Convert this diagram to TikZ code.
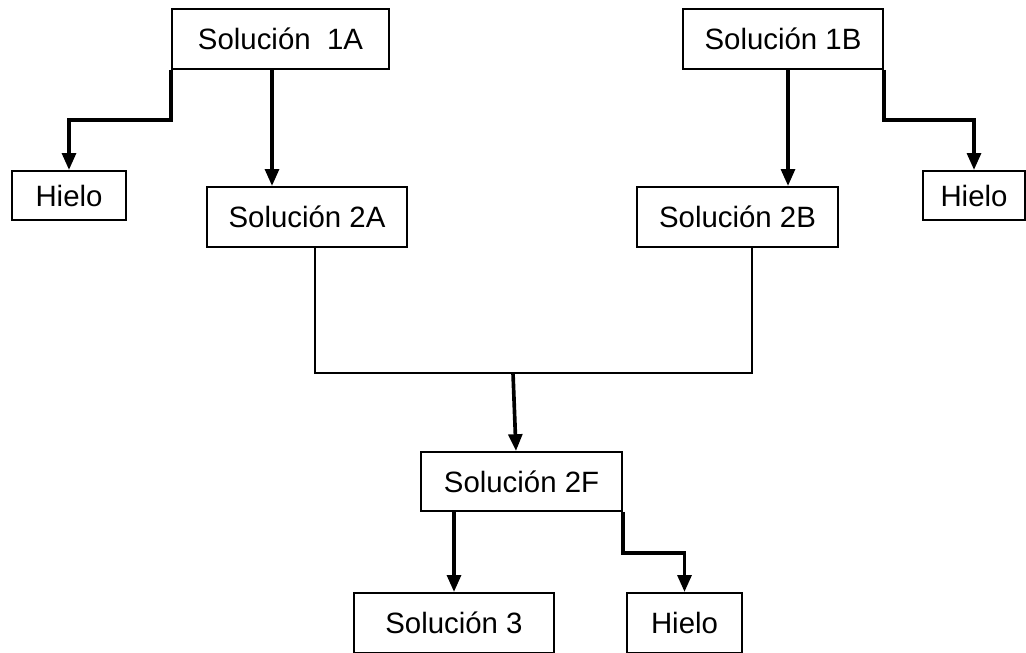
\documentclass[tikz,border=0pt]{standalone}
\usepackage{fontspec}
\setmainfont{Liberation Sans}
\usetikzlibrary{arrows.meta}

\begin{document}
\begin{tikzpicture}[x=0.025cm, y=-0.025cm,
    caja/.style={draw, line width=1.4pt, inner sep=0pt,
        font=\fontsize{20.9}{24}\selectfont},
    flecha/.style={line width=2.6pt, -{Triangle[width=0.34cm,length=0.42cm]}},
    linea/.style={line width=1.4pt}]
    \useasboundingbox (0,0) rectangle (1026,652);
    \clip (0,0) rectangle (1026,652);

    \node[caja, minimum width=217*0.025cm, minimum height=60*0.025cm] (S1A) at (280.5, 39) {Solución\ \ 1A};
    \node[caja, minimum width=200*0.025cm, minimum height=60*0.025cm] (S1B) at (783, 39) {Solución 1B};
    \node[caja, minimum width=114*0.025cm, minimum height=49*0.025cm] (HA) at (69, 195.5) {Hielo};
    \node[caja, minimum width=200*0.025cm, minimum height=60*0.025cm] (S2A) at (307, 217) {Solución 2A};
    \node[caja, minimum width=201*0.025cm, minimum height=60*0.025cm] (S2B) at (737.5, 217) {Solución 2B};
    \node[caja, minimum width=102*0.025cm, minimum height=49*0.025cm] (HB) at (974, 195.5) {Hielo};
    \node[caja, minimum width=201*0.025cm, minimum height=59*0.025cm] (S2F) at (521.5, 481.5) {Solución 2F};
    \node[caja, minimum width=200*0.025cm, minimum height=60*0.025cm] (S3) at (454, 623) {Solución 3};
    \node[caja, minimum width=115*0.025cm, minimum height=60*0.025cm] (HF) at (684.5, 623) {Hielo};

    \coordinate (codo1) at (0, 120);
    \coordinate (codo2) at (0, 553);
    \coordinate (xa) at (272, 0);
    \coordinate (xb) at (788, 0);
    \coordinate (xf) at (516, 0);
    \coordinate (JA) at (315, 373);
    \coordinate (JB) at (752, 373);
    \coordinate (J) at (513, 373);

    \draw[flecha] (S1A.south -| xa) to (S2A.north -| xa);
    \draw[flecha] (S1A.south west) -- (S1A.south west |- codo1) -| (HA.north);
    \draw[flecha] (S1B.south -| xb) to (S2B.north -| xb);
    \draw[flecha] (S1B.south east) -- (S1B.south east |- codo1) -| (HB.north);
    \draw[linea] (S2A.south -| JA) -- (JA) -- (JB) -- (S2B.south -| JB);
    \draw[flecha] (J) to (S2F.north -| xf);
    \draw[flecha] (S2F.south -| S3.north) to (S3.north);
    \draw[flecha] (S2F.south east) -- (S2F.south east |- codo2) -| (HF.north);
\end{tikzpicture}
\end{document}
